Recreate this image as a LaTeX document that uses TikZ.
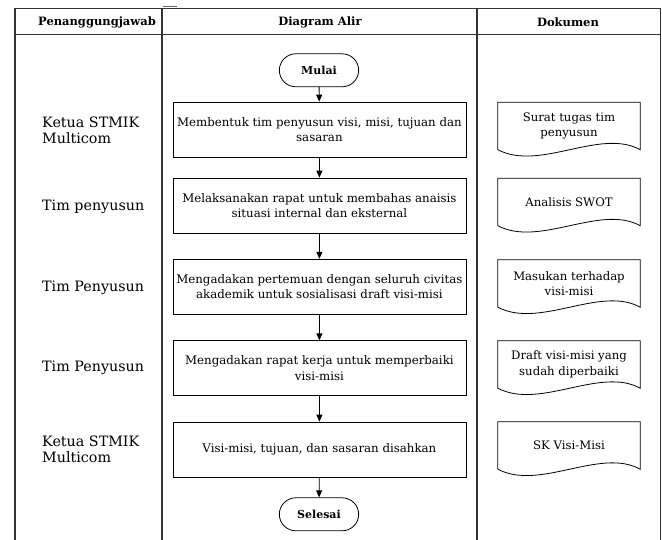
\documentclass[tikz,border=0pt]{standalone}
\usepackage{fontspec}
\setmainfont{DejaVu Serif}
\usetikzlibrary{shapes.misc,arrows.meta,calc}

% outline of a flowchart "document" symbol around a named node
\newcommand\drawdoc[1]{%
  \draw[docline] (#1.south west) -- (#1.north west) -- (#1.north east) -- (#1.south east)
    .. controls ($(#1.south east)+(-40,-22)$) and ($(#1.south west)+(42,22)$) .. (#1.south west);}

\begin{document}
\begin{tikzpicture}[x=1pt,y=-1pt,
  grid/.style={line width=1.2pt,draw=black!80},
  head/.style={inner sep=0pt,font=\fontsize{11.5}{14}\selectfont\bfseries},
  role/.style={anchor=west,align=left,inner sep=0pt,font=\fontsize{14.3}{16.3}\selectfont},
  proc/.style={draw,line width=0.8pt,minimum width=293pt,minimum height=55pt,align=center,inner sep=2pt,font=\fontsize{11.8}{15.7}\selectfont},
  term/.style={draw,line width=0.8pt,rounded rectangle,minimum width=86pt,minimum height=33pt,font=\fontsize{11}{13}\selectfont\bfseries},
  docbox/.style={minimum width=142pt,minimum height=47pt,align=center,inner sep=2pt,font=\fontsize{11.7}{15.5}\selectfont},
  docline/.style={line width=0.8pt},
  flow/.style={line width=0.8pt,-{Triangle[width=6pt,length=7pt]}},
]
\fill[white] (0,0) rectangle (662,539);
\useasboundingbox (0,0) rectangle (662,539);

% table frame
\coordinate (tl) at (15,8.3);
\coordinate (tr) at (660.5,8.3);
\coordinate (hl) at (15,34.3);
\coordinate (hr) at (660.5,34.3);
\coordinate (bl) at (15,541);
\coordinate (br) at (660.5,541);
\coordinate (s1t) at (162,8.3);
\coordinate (s1b) at (162,541);
\coordinate (s2t) at (477,8.3);
\coordinate (s2b) at (477,541);
\draw[grid] (bl) -- (tl) -- (tr) -- (br);
\draw[grid] (hl) -- (hr);
\draw[grid] (s1t) -- (s1b);
\draw[grid] (s2t) -- (s2b);
\coordinate (tickA) at (163,6.8);
\coordinate (tickB) at (177,6.8);
\draw[line width=0.8pt,black!60] (tickA) -- (tickB);

% header
\node[head] (hPJ) at (97,22.5) {Penanggungjawab};
\node[head] (hDA) at (320,22.5) {Diagram Alir};
\node[head] (hDK) at (568,22.5) {Dokumen};

% responsible parties
\node[role] (r1) at (42,130) {Ketua STMIK\\Multicom};
\node[role] (r2) at (42,206.7) {Tim penyusun};
\node[role] (r3) at (42,287.7) {Tim Penyusun};
\node[role] (r4) at (42,368) {Tim Penyusun};
\node[role] (r5) at (42,449) {Ketua STMIK\\Multicom};

% flow
\node[term] (start) at (319,70.3) {Mulai};
\node[proc] (p1) at (319.4,129.5) {Membentuk tim penyusun visi, misi, tujuan dan\\sasaran};
\node[proc] (p2) at (319.4,205.5) {Melaksanakan rapat untuk membahas anaisis\\situasi internal dan eksternal};
\node[proc] (p3) at (319.4,286.7) {Mengadakan pertemuan dengan seluruh civitas\\akademik untuk sosialisasi draft visi-misi};
\node[proc] (p4) at (319.4,368.3) {Mengadakan rapat kerja untuk memperbaiki\\visi-misi};
\node[proc] (p5) at (319.4,449.5) {Visi-misi, tujuan, dan sasaran disahkan};
\node[term] (stop) at (319,514.3) {Selesai};

\draw[flow] (start) -- (p1);
\draw[flow] (p1) -- (p2);
\draw[flow] (p2) -- (p3);
\draw[flow] (p3) -- (p4);
\draw[flow] (p4) -- (p5);
\draw[flow] (p5) -- (stop);

% documents
\node[docbox] (d1) at (569,126) {Surat tugas tim\\penyusun};
\node[docbox] (d2) at (569,202) {Analisis SWOT};
\node[docbox] (d3) at (569,283.5) {Masukan terhadap\\visi-misi};
\node[docbox] (d4) at (569,364.5) {Draft visi-misi yang\\sudah diperbaiki};
\node[docbox] (d5) at (569,445.5) {SK Visi-Misi};
\drawdoc{d1}
\drawdoc{d2}
\drawdoc{d3}
\drawdoc{d4}
\drawdoc{d5}
\end{tikzpicture}
\end{document}
